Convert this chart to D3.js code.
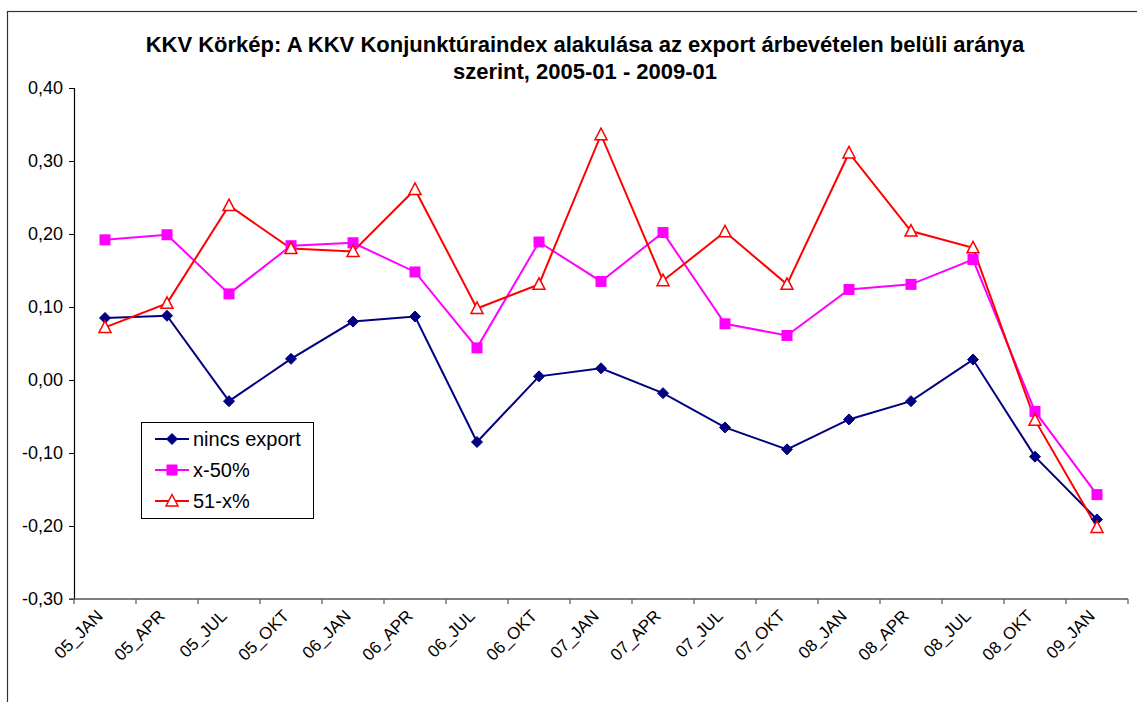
<!DOCTYPE html>
<html>
<head>
<meta charset="utf-8">
<script src="https://cdn.jsdelivr.net/npm/d3@7"></script>
<style>
  body { margin: 0; background: #fff; }
  svg { display: block; font-family: "Liberation Sans", Arial, sans-serif; }
</style>
</head>
<body>
<svg id="chart" width="1137" height="702"></svg>
<script>
// categories (quarters)
var categories = ["05_JAN", "05_APR", "05_JUL", "05_OKT", "06_JAN", "06_APR", "06_JUL", "06_OKT",
                  "07_JAN", "07_APR", "07_JUL", "07_OKT", "08_JAN", "08_APR", "08_JUL", "08_OKT", "09_JAN"];

// series values
var nincsExport = [0.085, 0.088, -0.029, 0.029, 0.080, 0.087, -0.085, 0.005,
                   0.016, -0.018, -0.065, -0.095, -0.054, -0.029, 0.028, -0.105, -0.191];
var x50 = [0.192, 0.199, 0.118, 0.184, 0.188, 0.148, 0.044, 0.189,
           0.135, 0.202, 0.077, 0.061, 0.124, 0.131, 0.165, -0.043, -0.157];
var x51 = [0.072, 0.105, 0.239, 0.180, 0.176, 0.261, 0.098, 0.131,
           0.336, 0.136, 0.203, 0.131, 0.311, 0.204, 0.181, -0.055, -0.202];

var yTicks = [-0.3, -0.2, -0.1, 0, 0.1, 0.2, 0.3, 0.4];
var seriesNames = ["nincs export", "x-50%", "51-x%"];

var series = [
  {name: seriesNames[0], values: nincsExport, color: "#000080", marker: "diamond"},
  {name: seriesNames[1], values: x50, color: "#ff00ff", marker: "square"},
  {name: seriesNames[2], values: x51, color: "#ff0000", marker: "triangle"}
];

var svg = d3.select("#chart");

// outer chart frame (runs off the right and bottom edge)
svg.append("rect")
  .attr("x", 7.5).attr("y", 11.5)
  .attr("width", 1200).attr("height", 800)
  .attr("fill", "#fff").attr("stroke", "#333").attr("stroke-width", 1.2);

// title
var title = svg.append("text")
  .attr("text-anchor", "middle")
  .attr("font-weight", "bold")
  .attr("font-size", 22)
  .attr("fill", "#000");
title.append("tspan").attr("x", 585).attr("y", 52)
  .text("KKV Körkép: A KKV Konjunktúraindex alakulása az export árbevételen belüli aránya");
title.append("tspan").attr("x", 585).attr("y", 79)
  .text("szerint, 2005-01 - 2009-01");

var plotLeft = 74, plotRight = 1128, plotTop = 88, plotBottom = 599;

var x = d3.scaleBand().domain(categories).range([plotLeft, plotRight]);
var y = d3.scaleLinear().domain([-0.3, 0.4]).range([plotBottom, plotTop]);

var fmt = function(d){ return d3.format(".2f")(d).replace(".", ",").replace("−", "-"); };

// y axis
var yAxis = d3.axisLeft(y).tickValues(yTicks).tickSize(5).tickPadding(6).tickFormat(fmt);
var gy = svg.append("g")
  .attr("transform", "translate(" + plotLeft + ",0)")
  .call(yAxis);
gy.select(".domain").attr("stroke", "#000").attr("stroke-width", 1.2);
gy.selectAll(".tick line").attr("stroke", "#000");
gy.selectAll("text").attr("font-size", 18).attr("fill", "#000")
  .attr("font-family", "Liberation Sans, Arial, sans-serif");

// x axis line and ticks at category boundaries
var gx = svg.append("g");
gx.append("line")
  .attr("x1", plotLeft - 5).attr("x2", plotRight)
  .attr("y1", y(-0.3)).attr("y2", y(-0.3))
  .attr("stroke", "#555").attr("stroke-width", 1.5);
var edges = categories.map(function(c){ return x(c); }).concat([plotRight]);
gx.selectAll("line.tk")
  .data(edges)
  .enter().append("line")
  .attr("class", "tk")
  .attr("x1", function(d){ return d; }).attr("x2", function(d){ return d; })
  .attr("y1", y(-0.3)).attr("y2", y(-0.3) + 5)
  .attr("stroke", "#555").attr("stroke-width", 1.2);

gx.selectAll("text")
  .data(categories)
  .enter().append("text")
  .attr("transform", function(d){
    return "translate(" + (x(d) + x.bandwidth() / 2 - 1) + "," + (y(-0.3) + 18) + ") rotate(-45)";
  })
  .attr("text-anchor", "end")
  .attr("font-size", 17)
  .attr("fill", "#000")
  .text(function(d){ return d; });

// markers
function drawMarker(sel, type, color){
  if (type === "diamond") {
    sel.append("path").attr("d", "M0,-5.5L5.5,0L0,5.5L-5.5,0Z").attr("fill", color).attr("stroke", color);
  } else if (type === "square") {
    sel.append("rect").attr("x", -5.5).attr("y", -5.5).attr("width", 11).attr("height", 11)
      .attr("fill", color);
  } else {
    sel.append("path").attr("d", "M0,-6.5L6,5L-6,5Z")
      .attr("fill", "#fff").attr("stroke", color).attr("stroke-width", 1.5);
  }
}

var line = d3.line()
  .x(function(d, i){ return x(categories[i]) + x.bandwidth() / 2; })
  .y(function(d){ return y(d); });

series.forEach(function(s){
  svg.append("path")
    .datum(s.values)
    .attr("d", line)
    .attr("fill", "none")
    .attr("stroke", s.color)
    .attr("stroke-width", 2);
});

series.forEach(function(s){
  s.values.forEach(function(v, i){
    var g = svg.append("g")
      .attr("transform", "translate(" + (x(categories[i]) + x.bandwidth() / 2) + "," + y(v) + ")");
    drawMarker(g, s.marker, s.color);
  });
});

// legend
var legend = svg.append("g").attr("transform", "translate(141,422)");
legend.append("rect")
  .attr("x", 0.5).attr("y", 0.5).attr("width", 172).attr("height", 96)
  .attr("fill", "#fff").attr("stroke", "#000").attr("stroke-width", 1);

series.forEach(function(s, i){
  var row = legend.append("g").attr("transform", "translate(0," + (17 + i * 31) + ")");
  row.append("line").attr("x1", 14).attr("x2", 48).attr("y1", 0).attr("y2", 0)
    .attr("stroke", s.color).attr("stroke-width", 2);
  var m = row.append("g").attr("transform", "translate(31,0)");
  drawMarker(m, s.marker, s.color);
  row.append("text").attr("x", 52).attr("y", 7)
    .attr("font-size", 20).attr("fill", "#000")
    .text(s.name);
});
</script>
</body>
</html>
